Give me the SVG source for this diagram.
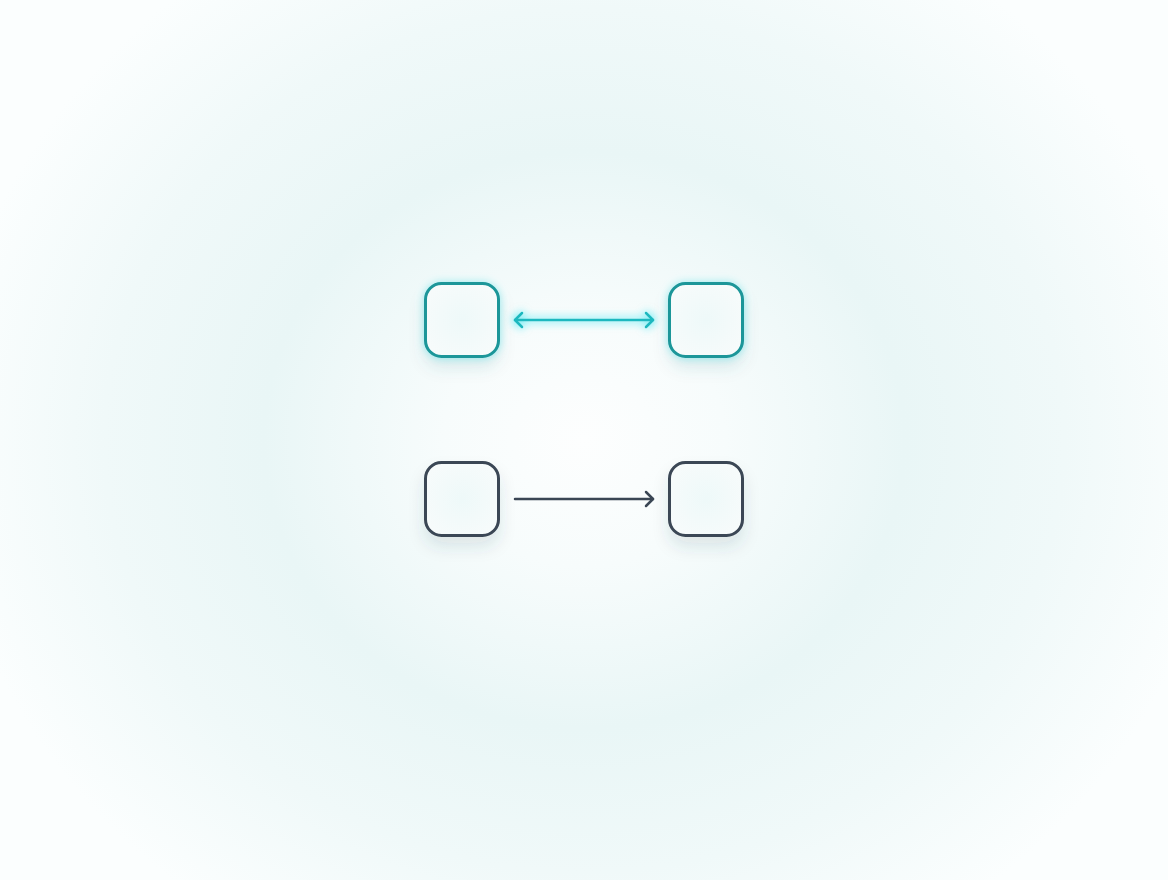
<svg xmlns="http://www.w3.org/2000/svg" width="1168" height="880" viewBox="0 0 1168 880">
  <defs>
    <radialGradient id="bg" cx="584" cy="440" r="640" gradientUnits="userSpaceOnUse" gradientTransform="translate(584 440) scale(1 0.9) translate(-584 -440)">
      <stop offset="0" stop-color="#fdfefe"/>
      <stop offset="0.22" stop-color="#f7fcfc"/>
      <stop offset="0.5" stop-color="#e9f6f6"/>
      <stop offset="0.75" stop-color="#f0f9f9"/>
      <stop offset="1" stop-color="#fbfefe"/>
    </radialGradient>
    <radialGradient id="boxfill" cx="0.5" cy="0.5" r="0.6">
      <stop offset="0" stop-color="#eef9f9"/>
      <stop offset="1" stop-color="#f7fbfb"/>
    </radialGradient>
    <filter id="shadow" x="-50%" y="-50%" width="200%" height="200%">
      <feGaussianBlur in="SourceAlpha" stdDeviation="8"/>
      <feOffset dy="10" result="b"/>
      <feFlood flood-color="#2a4a55" flood-opacity="0.12"/>
      <feComposite in2="b" operator="in" result="s"/>
      <feMerge><feMergeNode in="s"/><feMergeNode in="SourceGraphic"/></feMerge>
    </filter>
    <filter id="glow" x="-50%" y="-200%" width="200%" height="500%">
      <feGaussianBlur in="SourceAlpha" stdDeviation="5" result="a"/>
      <feFlood flood-color="#00e0ee" flood-opacity="0.55"/>
      <feComposite in2="a" operator="in" result="g"/>
      <feMerge><feMergeNode in="g"/><feMergeNode in="g"/><feMergeNode in="SourceGraphic"/></feMerge>
    </filter>
    <filter id="glowShadow" x="-50%" y="-50%" width="200%" height="200%">
      <feGaussianBlur in="SourceAlpha" stdDeviation="8"/>
      <feOffset dy="10" result="b"/>
      <feFlood flood-color="#2a6a70" flood-opacity="0.12"/>
      <feComposite in2="b" operator="in" result="s"/>
      <feGaussianBlur in="SourceAlpha" stdDeviation="4" result="a"/>
      <feFlood flood-color="#10d0dc" flood-opacity="0.35"/>
      <feComposite in2="a" operator="in" result="g"/>
      <feMerge><feMergeNode in="s"/><feMergeNode in="g"/><feMergeNode in="SourceGraphic"/></feMerge>
    </filter>
  </defs>
  <style>
    .box { fill: url(#boxfill); stroke-width: 3; }
    .teal { stroke: #1a9699; }
    .dark { stroke: #3a4654; }
    .conn { fill: none; stroke-width: 2.5; stroke-linecap: round; stroke-linejoin: round; }
  </style>
  <rect width="1168" height="880" fill="url(#bg)"/>

  <g id="node-top-left" filter="url(#glowShadow)">
    <rect class="box teal" x="425.5" y="283.5" width="73" height="73" rx="16"/>
  </g>
  <g id="node-top-right" filter="url(#glowShadow)">
    <rect class="box teal" x="669.5" y="283.5" width="73" height="73" rx="16"/>
  </g>
  <g id="node-bottom-left" filter="url(#shadow)">
    <rect class="box dark" x="425.5" y="462.5" width="73" height="73" rx="16"/>
  </g>
  <g id="node-bottom-right" filter="url(#shadow)">
    <rect class="box dark" x="669.5" y="462.5" width="73" height="73" rx="16"/>
  </g>

  <g id="connectors">
    <g filter="url(#glow)" stroke="#1fb8bf" class="conn">
      <path d="M515 320 H653"/>
      <path d="M522 313 L515 320 L522 327"/>
      <path d="M646 313 L653 320 L646 327"/>
    </g>
    <g stroke="#3a4654" class="conn">
      <path d="M515 499 H653"/>
      <path d="M646 492 L653 499 L646 506"/>
    </g>
  </g>
</svg>
